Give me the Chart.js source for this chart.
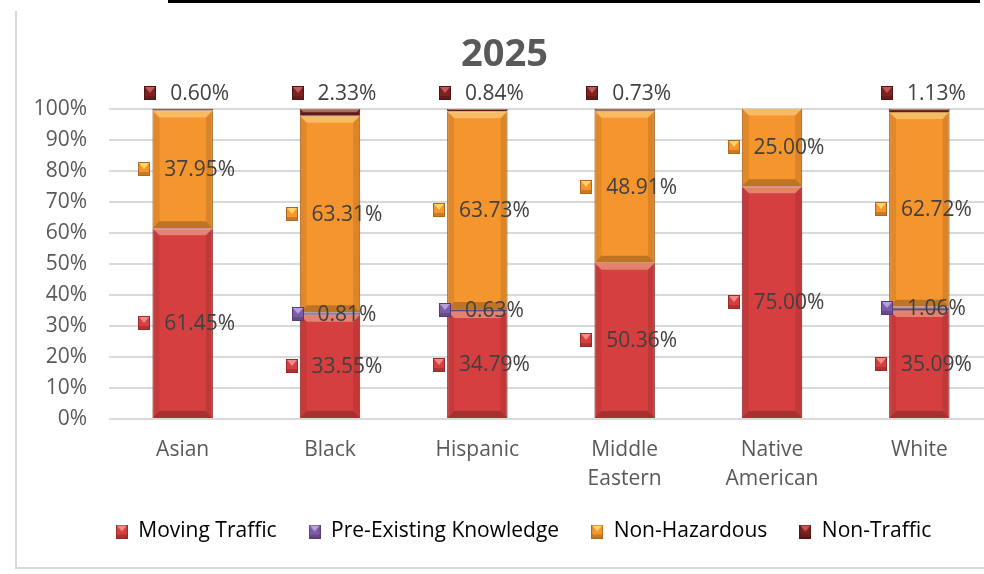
<!DOCTYPE html>
<html>
<head>
<meta charset="utf-8">
<title>2025</title>
<script src="https://cdn.jsdelivr.net/npm/chart.js@4.4.1/dist/chart.umd.min.js"></script>
<style>
  html, body { margin: 0; padding: 0; background: #fff; overflow: hidden; }
  body { width: 984px; height: 574px; position: relative; }
  .topline { position: absolute; left: 168px; top: 0; width: 812px; height: 3px; background: #000; }
  .frame { position: absolute; left: 15px; top: 11px; width: 1010px; height: 556px;
           border-left: 2px solid #d9d9d9; border-bottom: 2px solid #d9d9d9; }
  #chart { position: absolute; left: 16px; top: 12px; }
</style>
</head>
<body>
<div class="topline"></div>
<div class="frame"></div>
<canvas id="chart" width="1004" height="556"></canvas>
<script>
const categories = ['Asian', 'Black', 'Hispanic', ['Middle', 'Eastern'], ['Native', 'American'], 'White'];
const movingTraffic = [61.45, 33.55, 34.79, 50.36, 75.00, 35.09];
const preExisting = [0, 0.81, 0.63, 0, 0, 1.06];
const nonHazardous = [37.95, 63.31, 63.73, 48.91, 25.00, 62.72];
const nonTraffic = [0.60, 2.33, 0.84, 0.73, 0, 1.13];

const FONT = "'Open Sans', 'DejaVu Sans', sans-serif";
const TEXT = '#595959';

// small bevelled square used as legend key and label key
function makeKey(color, dark, light) {
  const c = document.createElement('canvas');
  c.width = 12; c.height = 14;
  const g = c.getContext('2d');
  g.fillStyle = color;
  g.fillRect(0, 0, 12, 14);
  g.fillStyle = light;
  g.beginPath();
  g.moveTo(1, 1); g.lineTo(11, 1); g.lineTo(6, 7); g.closePath();
  g.fill();
  g.fillStyle = 'rgba(0,0,0,0.18)';
  g.fillRect(1, 10, 10, 3);
  g.strokeStyle = dark;
  g.lineWidth = 1;
  g.strokeRect(0.5, 0.5, 11, 13);
  return c;
}

const series = [
  { label: 'Moving Traffic', data: movingTraffic, color: '#d63f3f', dark: '#9a2a2a', light: '#f28a8a' },
  { label: 'Pre-Existing Knowledge', data: preExisting, color: '#7d5ca6', dark: '#563d78', light: '#b9a0dc' },
  { label: 'Non-Hazardous', data: nonHazardous, color: '#f5952d', dark: '#b0661c', light: '#ffd56a' },
  { label: 'Non-Traffic', data: nonTraffic, color: '#7e2121', dark: '#511313', light: '#c25a5a' }
];
series.forEach(s => { s.key = makeKey(s.color, s.dark, s.light); });

function poly(ctx, pts, fill) {
  ctx.beginPath();
  ctx.moveTo(pts[0][0], pts[0][1]);
  for (let i = 1; i < pts.length; i++) ctx.lineTo(pts[i][0], pts[i][1]);
  ctx.closePath();
  ctx.fillStyle = fill;
  ctx.fill();
}

// bevel shading on every stacked segment
const bevelPlugin = {
  id: 'bevel',
  afterDatasetsDraw(chart) {
    const ctx = chart.ctx;
    ctx.save();
    chart.data.datasets.forEach((ds, i) => {
      chart.getDatasetMeta(i).data.forEach((bar, j) => {
        if (!ds.data[j]) return;
        const p = bar.getProps(['x', 'y', 'base', 'width'], true);
        const l = p.x - p.width / 2, r = p.x + p.width / 2;
        const t = Math.min(p.y, p.base), b = Math.max(p.y, p.base);
        const k = Math.min(7, (b - t) / 2, p.width / 2);
        if (k < 0.5) return;
        poly(ctx, [[l, t], [r, t], [r - k, t + k], [l + k, t + k]], 'rgba(255,255,200,0.35)');
        poly(ctx, [[l, t], [l + k, t + k], [l + k, b - k], [l, b]], 'rgba(0,0,0,0.08)');
        poly(ctx, [[r, t], [r - k, t + k], [r - k, b - k], [r, b]], 'rgba(0,0,0,0.10)');
        poly(ctx, [[l, b], [l + k, b - k], [r - k, b - k], [r, b]], 'rgba(0,0,0,0.22)');
      });
    });
    ctx.restore();
  }
};

// value labels with a legend key in front of them
const labelPlugin = {
  id: 'valueLabels',
  afterDatasetsDraw(chart) {
    const ctx = chart.ctx;
    ctx.save();
    ctx.font = '21px ' + FONT;
    ctx.fillStyle = '#404040';
    ctx.textBaseline = 'middle';
    ctx.textAlign = 'left';
    const last = chart.data.datasets.length - 1;
    chart.data.datasets.forEach((ds, i) => {
      const key = series[i].key;
      chart.getDatasetMeta(i).data.forEach((bar, j) => {
        const v = ds.data[j];
        if (!v) return;
        const p = bar.getProps(['x', 'y', 'base'], true);
        const text = v.toFixed(2) + '%';
        const tw = ctx.measureText(text).width;
        const gw = key.width + 14 + tw;
        const left = p.x + 4 - gw / 2;
        const cy = i === last ? Math.min(p.y, p.base) - 16 : (p.y + p.base) / 2;
        ctx.drawImage(key, Math.round(left), Math.round(cy - key.height / 2));
        ctx.fillText(text, left + key.width + 14, cy + 1);
      });
    });
    ctx.restore();
  }
};

// legend sits centred on the whole canvas rather than the padded area
const legendShift = {
  id: 'legendShift',
  afterLayout(chart) {
    if (chart.legend) {
      chart.legend.left += 19;
      chart.legend.right += 19;
    }
  }
};

new Chart(document.getElementById('chart'), {
  type: 'bar',
  data: {
    labels: categories,
    datasets: series.map(s => ({
      label: s.label,
      data: s.data,
      backgroundColor: s.color,
      borderColor: s.dark,
      borderWidth: 1,
      barPercentage: 0.41,
      categoryPercentage: 1
    }))
  },
  options: {
    responsive: false,
    animation: false,
    layout: { padding: { left: 0, right: 27, top: 0, bottom: 16 } },
    scales: {
      x: {
        stacked: true,
        grid: { display: false },
        border: { display: false },
        ticks: { color: TEXT, font: { family: FONT, size: 21, lineHeight: 1.38 }, padding: 9, maxRotation: 0 },
        afterFit(scale) { scale.height = 70; }
      },
      y: {
        stacked: true,
        min: 0,
        max: 100,
        grid: { color: '#d9d9d9', lineWidth: 2, drawTicks: false },
        border: { display: false },
        ticks: {
          stepSize: 10,
          color: TEXT,
          padding: 22,
          font: { family: FONT, size: 21 },
          callback: v => v + '%'
        },
        afterFit(scale) { scale.width = 93; }
      }
    },
    plugins: {
      title: {
        display: true,
        text: '2025',
        color: TEXT,
        font: { family: FONT, size: 38, weight: 'bold' },
        padding: { top: 20, bottom: 31 }
      },
      legend: {
        position: 'bottom',
        labels: {
          color: TEXT,
          font: { family: FONT, size: 21 },
          usePointStyle: true,
          boxWidth: 12,
          padding: 32,
          generateLabels(chart) {
            return series.map((s, i) => ({
              text: s.label,
              fillStyle: s.color,
              strokeStyle: s.dark,
              pointStyle: s.key,
              datasetIndex: i,
              hidden: false
            }));
          }
        }
      },
      tooltip: { enabled: false }
    }
  },
  plugins: [bevelPlugin, labelPlugin, legendShift]
});
</script>
</body>
</html>
